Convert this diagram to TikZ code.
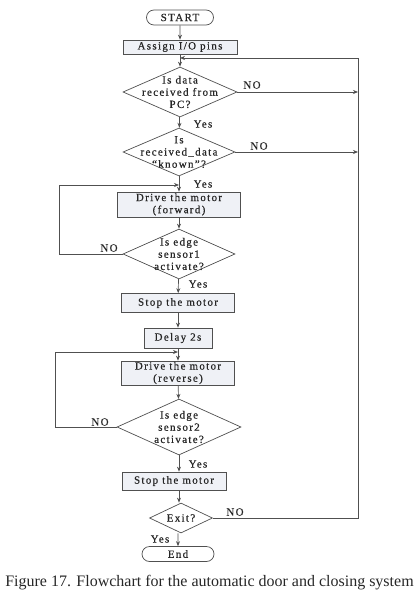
\documentclass[tikz,border=0pt]{standalone}
\usepackage{fontspec}
\setmainfont{Liberation Serif}
\newfontfamily\nodefont[LetterSpace=12,FakeBold=0.4]{Liberation Serif}
\usetikzlibrary{shapes.geometric,shapes.misc,arrows.meta}
\definecolor{boxfill}{HTML}{EFF1F6}
\definecolor{lncol}{HTML}{505050}
\begin{document}
\begin{tikzpicture}[x=1pt,y=-1pt,
 every node/.style={font=\nodefont\fontsize{11}{12.2}\selectfont,text=black!85},
 proc/.style={draw=lncol,fill=boxfill,rectangle,inner sep=0pt,align=center,line width=0.7pt},
 term/.style={draw=lncol,fill=white,rounded rectangle,inner sep=0pt,line width=0.7pt},
 dec/.style={draw=lncol,fill=white,diamond,inner sep=0pt,line width=0.7pt},
 dectext/.style={align=center,inner sep=0pt},
 lbl/.style={inner sep=0pt},
 arr/.style={draw=lncol,line width=0.7pt,-{Stealth[length=5pt,width=4pt]}},
 plain/.style={draw=lncol,line width=0.7pt}]
\useasboundingbox (0,0) rectangle (418,604);
% nodes
\node[term,minimum width=67pt,minimum height=15pt] (start) at (180,17.5) {START};
\node[proc,minimum width=114pt,minimum height=14pt] (assign) at (180,47) {Assign I/O pins};
\node[dec,minimum width=114pt,minimum height=50pt] (d1) at (180,92) {};
\node[dectext] (t1) at (d1.center) {Is data\\received from\\PC?};
\node[dec,minimum width=112pt,minimum height=48pt] (d2) at (179,152) {};
\node[dectext] (t2) at (d2.center) {Is\\received\_data\\“known”?};
\node[proc,minimum width=123pt,minimum height=25pt] (fwd) at (179,204.5) {Drive the motor\\(forward)};
\node[dec,minimum width=112pt,minimum height=50pt] (d3) at (179,254) {};
\node[dectext] (t3) at (d3.center) {Is edge\\sensor1\\activate?};
\node[proc,minimum width=113pt,minimum height=19pt] (stop1) at (178,303) {Stop the motor};
\node[proc,minimum width=68pt,minimum height=20pt] (delay) at (178,338) {Delay 2s};
\node[proc,minimum width=113pt,minimum height=24pt] (rev) at (178,373) {Drive the motor\\(reverse)};
\node[dec,minimum width=124pt,minimum height=56pt] (d4) at (179,427) {};
\node[dectext] (t4) at (d4.center) {Is edge\\sensor2\\activate?};
\node[proc,minimum width=104pt,minimum height=18pt] (stop2) at (174,481) {Stop the motor};
\node[dec,minimum width=63pt,minimum height=30pt] (exit) at (181,518) {};
\node[dectext] (t5) at (exit.center) {Exit?};
\node[term,minimum width=72pt,minimum height=15pt] (end) at (178,554) {End};
% coordinates
\coordinate (rtop) at (358,58);
\coordinate (jtop) at (180,58);
\coordinate (rbot) at (358,518);
\coordinate (l1) at (59,185);
\coordinate (j1) at (179,185);
\coordinate (l2) at (55,352);
\coordinate (j2) at (178,352);
% main flow
\draw[arr] (start) -- (assign);
\draw[arr] (assign) -- (d1);
\draw[arr] (d1) -- (d2);
\draw[arr] (d2) -- (fwd);
\draw[arr] (fwd) -- (d3);
\draw[arr] (d3) -- (stop1);
\draw[arr] (stop1) -- (delay);
\draw[arr] (delay) -- (rev);
\draw[arr] (rev) -- (d4);
\draw[arr] (d4) -- (stop2.north -| d4.south);
\draw[arr] (stop2.south -| d4.south) -- (exit.north -| d4.south);
\draw[arr] (exit.south -| end.north) -- (end);
% return path
\draw[plain] (exit.east) -- (rbot) -- (rtop);
\draw[arr] (rtop) -- (jtop);
\draw[arr] (d1.east) -- (d1.east -| rtop);
\draw[arr] (d2.east) -- (d2.east -| rtop);
% loops
\draw[plain] (d3.west) -| (l1);
\draw[arr] (l1) -- (j1);
\draw[plain] (d4.west) -| (l2);
\draw[arr] (l2) -- (j2);
% labels
\node[lbl] (n1) at (252,85) {NO};
\node[lbl] (n2) at (259,146) {NO};
\node[lbl] (n3) at (109,248) {NO};
\node[lbl] (n4) at (100,422) {NO};
\node[lbl] (n5) at (235,512) {NO};
\node[lbl] (y1) at (203,124) {Yes};
\node[lbl] (y2) at (203,184) {Yes};
\node[lbl] (y3) at (198,284) {Yes};
\node[lbl] (y4) at (198,464) {Yes};
\node[lbl] (y5) at (160,539) {Yes};
\node[inner sep=0pt,font=\rmfamily\fontsize{16}{18}\selectfont] (cap) at (209.5,583) {Figure 17. Flowchart for the automatic door and closing system};
\end{tikzpicture}
\end{document}
